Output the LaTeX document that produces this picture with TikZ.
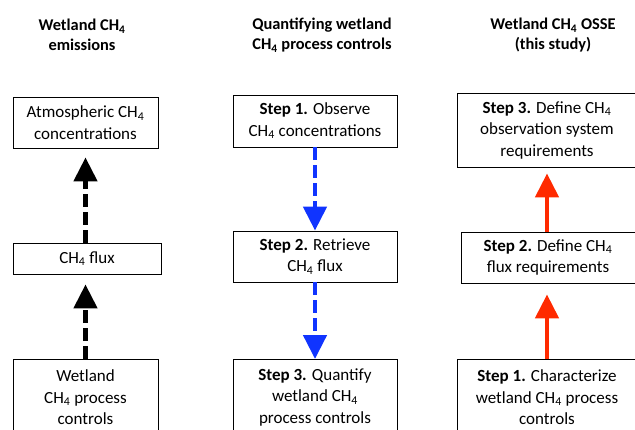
\documentclass[tikz,border=0pt]{standalone}
\usepackage{fontspec}
\setmainfont{Carlito}
\usepackage{tikz}
\usetikzlibrary{arrows.meta, positioning}
\definecolor{stepblue}{HTML}{1034FF}
\definecolor{stepred}{HTML}{FF2A00}
\newcommand{\chfour}{CH\textsubscript{4}}

\begin{document}
\begin{tikzpicture}[x=1pt, y=-1pt,
      box/.style={draw, line width=0.8pt, align=center, inner sep=0pt,
        font=\fontsize{17}{21.5}\selectfont},
      head/.style={align=center, font=\bfseries\fontsize{16.4}{20}\selectfont},
      blackarr/.style={-{Triangle[length=24pt, width=23pt]}, line width=4.6pt,
        dash pattern=on 13pt off 5pt},
      bluearr/.style={blackarr, stepblue},
      redarr/.style={-{Triangle[length=24pt, width=23pt]}, line width=4.6pt, stepred},
    ]
    \clip (0,0) rectangle (635,429);
    % --- column titles ------------------------------------------------
    \node[head] (t1) at (82,35) {Wetland \chfour\\emissions};
    \node[head] (t2) at (322,35) {Quantifying wetland\\\chfour{} process controls};
    \node[head] (t3) at (553,35) {Wetland \chfour{} OSSE\\(this study)};
    % --- left column: emissions ---------------------------------------
    \node[box, minimum width=145pt, minimum height=51pt] (atmo) at (85.5,122.5)
      {Atmospheric \chfour\\concentrations};
    \node[box, minimum width=148pt, minimum height=31pt] (flux) at (87,258.5)
      {\chfour{} flux};
    \node[box, anchor=north, minimum width=145pt, minimum height=76pt] (ctrl) at (85.5,359)
      {Wetland\\\chfour{} process\\controls};
    % --- middle column: quantifying -----------------------------------
    \node[box, minimum width=164pt, minimum height=52pt] (obs) at (315,121)
      {\textbf{Step 1.} Observe\\\chfour{} concentrations};
    \node[box, minimum width=164pt, minimum height=51pt] (retr) at (315,256.5)
      {\textbf{Step 2.} Retrieve\\\chfour{} flux};
    \node[box, anchor=north, minimum width=164pt, minimum height=76pt] (quant) at (315,359)
      {\textbf{Step 3.} Quantify\\wetland \chfour\\process controls};
    % --- right column: OSSE -------------------------------------------
    \node[box, minimum width=180pt, minimum height=74pt] (req) at (547,130)
      {\textbf{Step 3.} Define \chfour\\observation system\\requirements};
    \node[box, minimum width=174pt, minimum height=51pt] (fluxreq) at (548,257.5)
      {\textbf{Step 2.} Define \chfour\\flux requirements};
    \node[box, anchor=north, minimum width=180pt, minimum height=76pt] (char) at (547,359)
      {\textbf{Step 1.} Characterize\\wetland \chfour{} process\\controls};
    % --- arrows -------------------------------------------------------
    \draw[blackarr, shorten >=9pt] (atmo.south |- flux.north) -- (atmo.south);
    \draw[blackarr, shorten >=10pt] (ctrl.north) -- (ctrl.north |- flux.south);
    \draw[bluearr] (obs.south) -- (retr.north);
    \draw[bluearr] (retr.south) -- (quant.north);
    \draw[redarr, shorten >=6pt] (fluxreq.north -| req.south) -- (req.south);
    \draw[redarr, shorten >=11pt] (char.north) -- (char.north |- fluxreq.south);
  \end{tikzpicture}
\end{document}
